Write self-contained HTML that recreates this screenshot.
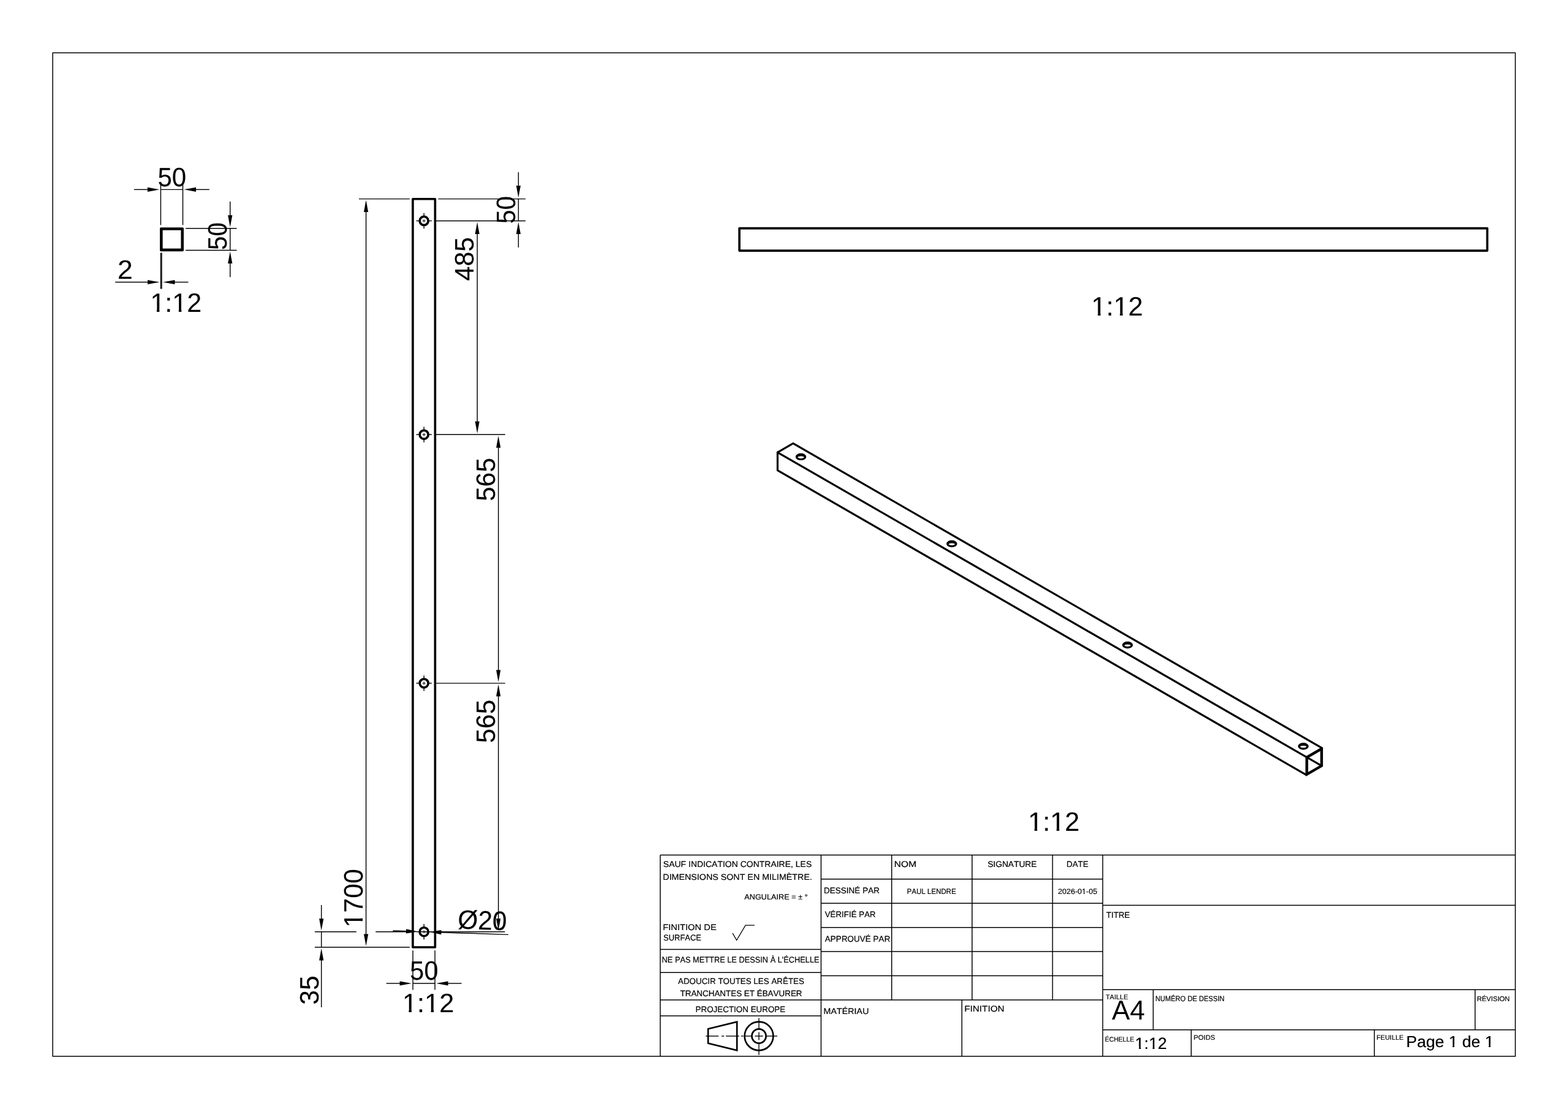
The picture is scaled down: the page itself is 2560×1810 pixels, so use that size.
<!DOCTYPE html>
<html lang="fr">
<head>
<meta charset="utf-8">
<title>Mise en plan - tube carré 50 x 50 x 1700</title>
<style>
html,body{margin:0;padding:0;background:#fff;}
body{width:2560px;height:1810px;overflow:hidden;}
svg{display:block;will-change:transform;filter:grayscale(1);}
svg *{vector-effect:none;}
svg line,svg rect,svg circle,svg ellipse,svg path{fill:none;stroke:#000;}
svg text{font-family:"Liberation Sans",sans-serif;font-kerning:none;fill:#000;stroke:none;stroke-linejoin:round;text-rendering:geometricPrecision;white-space:pre;}
svg text.big{stroke:#fff;}
svg text.small{stroke:#000;}
svg rect.m{fill:#fff;stroke:none;}
</style>
</head>
<body>
<svg width="2560" height="1810" viewBox="0 0 2560 1810">
<rect x="0" y="0" width="2560" height="1810" style="fill:#fff;stroke:none"/>
<g id="labels">
<text transform="translate(257.38,303.74) scale(0.9667,1)" font-size="43.43" class="small" stroke-width="0.120">50</text>
<text transform="translate(369.74,407.96) rotate(-90) scale(0.9333,1)" font-size="43.43" class="small" stroke-width="0.120">50</text>
<text transform="translate(191.70,455.14) scale(1.0351,1)" font-size="43.43" class="small" stroke-width="0.120">2</text>
<g transform="translate(245.42,508.64) scale(0.9912,1)"><text font-size="43.43" class="small" stroke-width="0.120">1:12</text><rect class="m" x="2.15" y="-4.40" width="8.46" height="5.56"/><rect class="m" x="15.07" y="-4.40" width="8.12" height="5.56"/><rect class="m" x="38.37" y="-4.40" width="8.46" height="5.56"/><rect class="m" x="51.29" y="-4.40" width="8.12" height="5.56"/></g>
<g transform="translate(591.74,1513.78) rotate(-90) scale(0.9916,1)"><text font-size="43.43" class="small" stroke-width="0.120">1700</text><rect class="m" x="2.15" y="-4.40" width="8.46" height="5.56"/><rect class="m" x="15.07" y="-4.40" width="8.12" height="5.56"/></g>
<text transform="translate(519.54,1639.76) rotate(-90) scale(0.9810,1)" font-size="43.43" class="small" stroke-width="0.120">35</text>
<text transform="translate(840.64,364.96) rotate(-90) scale(0.9333,1)" font-size="43.43" class="small" stroke-width="0.120">50</text>
<text transform="translate(773.14,458.42) rotate(-90) scale(0.9876,1)" font-size="43.43" class="small" stroke-width="0.120">485</text>
<text transform="translate(807.64,818.04) rotate(-90) scale(0.9794,1)" font-size="43.43" class="small" stroke-width="0.120">565</text>
<text transform="translate(807.64,1212.84) rotate(-90) scale(0.9794,1)" font-size="43.43" class="small" stroke-width="0.120">565</text>
<text transform="translate(746.99,1515.54) rotate(1.9) scale(0.9745,1)" font-size="43.43" class="small" stroke-width="0.120">Ø20</text>
<text transform="translate(669.30,1598.84) scale(0.9556,1)" font-size="43.43" class="small" stroke-width="0.120">50</text>
<g transform="translate(656.89,1652.14) scale(0.9989,1)"><text font-size="43.43" class="small" stroke-width="0.120">1:12</text><rect class="m" x="2.15" y="-4.40" width="8.46" height="5.56"/><rect class="m" x="15.07" y="-4.40" width="8.12" height="5.56"/><rect class="m" x="38.37" y="-4.40" width="8.46" height="5.56"/><rect class="m" x="51.29" y="-4.40" width="8.12" height="5.56"/></g>
<g transform="translate(1781.79,514.84) scale(0.9976,1)"><text font-size="43.43" class="small" stroke-width="0.120">1:12</text><rect class="m" x="2.15" y="-4.40" width="8.46" height="5.56"/><rect class="m" x="15.07" y="-4.40" width="8.12" height="5.56"/><rect class="m" x="38.37" y="-4.40" width="8.46" height="5.56"/><rect class="m" x="51.29" y="-4.40" width="8.12" height="5.56"/></g>
<g transform="translate(1678.40,1356.14) scale(0.9950,1)"><text font-size="43.43" class="small" stroke-width="0.120">1:12</text><rect class="m" x="2.15" y="-4.40" width="8.46" height="5.56"/><rect class="m" x="15.07" y="-4.40" width="8.12" height="5.56"/><rect class="m" x="38.37" y="-4.40" width="8.46" height="5.56"/><rect class="m" x="51.29" y="-4.40" width="8.12" height="5.56"/></g>
<text transform="translate(1082.86,1415.10) scale(1.0237,1)" font-size="13.66" class="small" stroke-width="0.200">SAUF INDICATION CONTRAIRE, LES</text>
<text transform="translate(1082.33,1436.00) scale(1.0456,1)" font-size="13.66" class="small" stroke-width="0.200">DIMENSIONS SONT EN MILIMÈTRE.</text>
<text transform="translate(1215.28,1468.30) scale(1.0406,1)" font-size="12.21" class="small" stroke-width="0.200">ANGULAIRE = ± °</text>
<text transform="translate(1082.29,1517.60) scale(1.0766,1)" font-size="13.66" class="small" stroke-width="0.200">FINITION DE</text>
<text transform="translate(1083.11,1535.20) scale(0.9457,1)" font-size="13.66" class="small" stroke-width="0.200">SURFACE</text>
<text transform="translate(1080.55,1571.10) scale(0.9372,1)" font-size="13.66" class="small" stroke-width="0.200">NE PAS METTRE LE DESSIN À L'ÉCHELLE</text>
<text transform="translate(1106.97,1606.30) scale(0.9798,1)" font-size="13.66" class="small" stroke-width="0.200">ADOUCIR TOUTES LES ARÊTES</text>
<text transform="translate(1110.50,1626.40) scale(0.9824,1)" font-size="13.66" class="small" stroke-width="0.200">TRANCHANTES ET ÉBAVURER</text>
<text transform="translate(1135.60,1651.60) scale(0.9808,1)" font-size="13.66" class="small" stroke-width="0.200">PROJECTION EUROPE</text>
<text transform="translate(1344.89,1457.90) scale(0.9920,1)" font-size="13.66" class="small" stroke-width="0.200">DESSINÉ PAR</text>
<text transform="translate(1346.64,1497.30) scale(0.9770,1)" font-size="13.66" class="small" stroke-width="0.200">VÉRIFIÉ PAR</text>
<text transform="translate(1346.87,1536.80) scale(0.9883,1)" font-size="13.66" class="small" stroke-width="0.200">APPROUVÉ PAR</text>
<text transform="translate(1459.71,1415.10) scale(1.1473,1)" font-size="13.66" class="small" stroke-width="0.200">NOM</text>
<text transform="translate(1612.42,1415.10) scale(1.0083,1)" font-size="13.66" class="small" stroke-width="0.200">SIGNATURE</text>
<text transform="translate(1741.20,1415.10) scale(0.9818,1)" font-size="13.66" class="small" stroke-width="0.200">DATE</text>
<text transform="translate(1480.86,1458.70) scale(0.9431,1)" font-size="12.21" class="small" stroke-width="0.200">PAUL LENDRE</text>
<g transform="translate(1727.27,1458.70) scale(1.0273,1)"><text font-size="12.21" class="small" stroke-width="0.200">2026-01-05</text><rect class="m" x="37.75" y="-2.11" width="2.99" height="3.31"/><rect class="m" x="42.52" y="-2.11" width="2.89" height="3.31"/></g>
<text transform="translate(1344.53,1654.90) scale(1.0479,1)" font-size="13.66" class="small" stroke-width="0.200">MATÉRIAU</text>
<text transform="translate(1574.45,1651.40) scale(1.1191,1)" font-size="13.66" class="small" stroke-width="0.200">FINITION</text>
<text transform="translate(1806.35,1497.50) scale(0.9709,1)" font-size="13.66" class="small" stroke-width="0.200">TITRE</text>
<text transform="translate(1805.15,1630.90) scale(0.9954,1)" font-size="11.05" class="small" stroke-width="0.200">TAILLE</text>
<text transform="translate(1815.21,1663.85) scale(0.9877,1)" font-size="44.77">A4</text>
<text transform="translate(1886.13,1633.80) scale(0.9159,1)" font-size="12.21" class="small" stroke-width="0.200">NUMÉRO DE DESSIN</text>
<text transform="translate(2411.15,1633.70) scale(0.9944,1)" font-size="11.34" class="small" stroke-width="0.200">RÉVISION</text>
<text transform="translate(1804.09,1699.55) scale(0.9445,1)" font-size="11.05" class="small" stroke-width="0.200">ÉCHELLE</text>
<g transform="translate(1853.12,1711.50) scale(1.0068,1)"><text font-size="26.60" class="small" stroke-width="0.200">1:12</text><rect class="m" x="0.83" y="-3.19" width="5.51" height="4.39"/><rect class="m" x="9.39" y="-3.19" width="5.30" height="4.39"/><rect class="m" x="23.01" y="-3.19" width="5.51" height="4.39"/><rect class="m" x="31.57" y="-3.19" width="5.30" height="4.39"/></g>
<text transform="translate(1948.72,1696.70) scale(1.0209,1)" font-size="11.05" class="small" stroke-width="0.200">POIDS</text>
<text transform="translate(2247.31,1696.70) scale(0.9865,1)" font-size="11.05" class="small" stroke-width="0.200">FEUILLE</text>
<g transform="translate(2295.82,1708.60) scale(1.0142,1)"><text font-size="26.16" class="small" stroke-width="0.200">Page 1 de 1</text><rect class="m" x="69.16" y="-3.15" width="5.44" height="4.35"/><rect class="m" x="77.61" y="-3.15" width="5.23" height="4.35"/><rect class="m" x="127.36" y="-3.15" width="5.44" height="4.35"/><rect class="m" x="135.80" y="-3.15" width="5.23" height="4.35"/></g>
</g>
<g id="frame">
<rect x="86.05" y="86.3" width="2387.95" height="1637.60" stroke-width="1.5" stroke-linejoin="round"/>
</g>
<g id="view-section">
<rect x="262.6" y="372.7" width="35.80" height="35.90" stroke-width="3.1" stroke-linejoin="round"/>
<rect x="264.04" y="374.14" width="32.92" height="33.02" stroke-width="3.1"/>
<line x1="262.40" y1="300.00" x2="262.40" y2="367.30" stroke-width="1.45"/>
<line x1="298.50" y1="300.00" x2="298.50" y2="367.30" stroke-width="1.45"/>
<line x1="218.80" y1="309.35" x2="241.40" y2="309.35" stroke-width="1.45"/>
<line x1="319.50" y1="309.35" x2="341.90" y2="309.35" stroke-width="1.45"/>
<line x1="262.40" y1="309.35" x2="298.50" y2="309.35" stroke-width="1.45"/>
<polygon points="260.40,309.35 240.90,312.95 240.90,305.75" fill="#000" stroke="none"/>
<polygon points="300.50,309.35 320.00,305.75 320.00,312.95" fill="#000" stroke="none"/>
<line x1="303.10" y1="372.80" x2="386.50" y2="372.80" stroke-width="1.45"/>
<line x1="303.10" y1="408.55" x2="386.50" y2="408.55" stroke-width="1.45"/>
<line x1="375.70" y1="329.00" x2="375.70" y2="351.80" stroke-width="1.45"/>
<line x1="375.70" y1="429.55" x2="375.70" y2="452.30" stroke-width="1.45"/>
<line x1="375.70" y1="372.80" x2="375.70" y2="408.55" stroke-width="1.45"/>
<polygon points="375.70,370.80 372.10,351.30 379.30,351.30" fill="#000" stroke="none"/>
<polygon points="375.70,410.55 379.30,430.05 372.10,430.05" fill="#000" stroke="none"/>
<line x1="262.50" y1="412.60" x2="262.50" y2="471.50" stroke-width="1.45"/>
<line x1="263.94" y1="412.60" x2="263.94" y2="471.50" stroke-width="1.45"/>
<line x1="188.10" y1="460.50" x2="241.50" y2="460.50" stroke-width="1.45"/>
<line x1="284.94" y1="460.50" x2="307.44" y2="460.50" stroke-width="1.45"/>
<line x1="262.50" y1="460.50" x2="263.94" y2="460.50" stroke-width="1.45"/>
<polygon points="260.50,460.50 241.00,464.10 241.00,456.90" fill="#000" stroke="none"/>
<polygon points="265.94,460.50 285.44,456.90 285.44,464.10" fill="#000" stroke="none"/>
</g>
<g id="view-front">
<rect x="673.95" y="324.7" width="36.45" height="1221.30" stroke-width="3.65" stroke-linejoin="round"/>
<circle cx="692.2" cy="360.45" r="7.0" stroke-width="3.7"/>
<line x1="679.50" y1="360.45" x2="686.20" y2="360.45" stroke-width="1.4"/>
<line x1="698.20" y1="360.45" x2="704.90" y2="360.45" stroke-width="1.4"/>
<line x1="692.20" y1="347.75" x2="692.20" y2="354.45" stroke-width="1.4"/>
<line x1="692.20" y1="366.45" x2="692.20" y2="373.15" stroke-width="1.4"/>
<line x1="689.50" y1="360.45" x2="694.90" y2="360.45" stroke-width="1.0"/>
<line x1="692.20" y1="357.75" x2="692.20" y2="363.15" stroke-width="1.0"/>
<circle cx="692.2" cy="709.3" r="7.0" stroke-width="3.7"/>
<line x1="679.50" y1="709.30" x2="686.20" y2="709.30" stroke-width="1.4"/>
<line x1="698.20" y1="709.30" x2="704.90" y2="709.30" stroke-width="1.4"/>
<line x1="692.20" y1="696.60" x2="692.20" y2="703.30" stroke-width="1.4"/>
<line x1="692.20" y1="715.30" x2="692.20" y2="722.00" stroke-width="1.4"/>
<line x1="689.50" y1="709.30" x2="694.90" y2="709.30" stroke-width="1.0"/>
<line x1="692.20" y1="706.60" x2="692.20" y2="712.00" stroke-width="1.0"/>
<circle cx="692.2" cy="1115.1" r="7.0" stroke-width="3.7"/>
<line x1="679.50" y1="1115.10" x2="686.20" y2="1115.10" stroke-width="1.4"/>
<line x1="698.20" y1="1115.10" x2="704.90" y2="1115.10" stroke-width="1.4"/>
<line x1="692.20" y1="1102.40" x2="692.20" y2="1109.10" stroke-width="1.4"/>
<line x1="692.20" y1="1121.10" x2="692.20" y2="1127.80" stroke-width="1.4"/>
<line x1="689.50" y1="1115.10" x2="694.90" y2="1115.10" stroke-width="1.0"/>
<line x1="692.20" y1="1112.40" x2="692.20" y2="1117.80" stroke-width="1.0"/>
<circle cx="692.2" cy="1520.75" r="7.0" stroke-width="3.7"/>
<line x1="679.50" y1="1520.75" x2="686.20" y2="1520.75" stroke-width="1.4"/>
<line x1="698.20" y1="1520.75" x2="704.90" y2="1520.75" stroke-width="1.4"/>
<line x1="692.20" y1="1508.05" x2="692.20" y2="1514.75" stroke-width="1.4"/>
<line x1="692.20" y1="1526.75" x2="692.20" y2="1533.45" stroke-width="1.4"/>
<line x1="689.50" y1="1520.75" x2="694.90" y2="1520.75" stroke-width="1.0"/>
<line x1="692.20" y1="1518.05" x2="692.20" y2="1523.45" stroke-width="1.0"/>
<line x1="586.00" y1="324.60" x2="668.90" y2="324.60" stroke-width="1.45"/>
<line x1="513.90" y1="1545.90" x2="668.80" y2="1545.90" stroke-width="1.45"/>
<line x1="597.60" y1="345.60" x2="597.60" y2="1524.90" stroke-width="1.45"/>
<polygon points="597.60,326.60 601.20,346.10 594.00,346.10" fill="#000" stroke="none"/>
<polygon points="597.60,1543.90 594.00,1524.40 601.20,1524.40" fill="#000" stroke="none"/>
<line x1="513.90" y1="1520.80" x2="581.90" y2="1520.80" stroke-width="1.45"/>
<line x1="613.30" y1="1520.80" x2="672.50" y2="1520.80" stroke-width="1.45"/>
<line x1="524.70" y1="1477.10" x2="524.70" y2="1499.80" stroke-width="1.45"/>
<line x1="524.70" y1="1566.90" x2="524.70" y2="1644.00" stroke-width="1.45"/>
<line x1="524.70" y1="1520.80" x2="524.70" y2="1545.90" stroke-width="1.45"/>
<polygon points="524.70,1518.80 521.10,1499.30 528.30,1499.30" fill="#000" stroke="none"/>
<polygon points="524.70,1547.90 528.30,1567.40 521.10,1567.40" fill="#000" stroke="none"/>
<line x1="715.40" y1="324.60" x2="858.10" y2="324.60" stroke-width="1.45"/>
<line x1="712.00" y1="360.40" x2="858.10" y2="360.40" stroke-width="1.45"/>
<line x1="712.00" y1="709.20" x2="824.80" y2="709.20" stroke-width="1.45"/>
<line x1="712.00" y1="1115.10" x2="824.80" y2="1115.10" stroke-width="1.45"/>
<line x1="712.00" y1="1520.80" x2="824.40" y2="1520.80" stroke-width="1.45"/>
<line x1="846.40" y1="281.10" x2="846.40" y2="303.60" stroke-width="1.45"/>
<line x1="846.40" y1="381.40" x2="846.40" y2="403.90" stroke-width="1.45"/>
<line x1="846.40" y1="324.60" x2="846.40" y2="360.40" stroke-width="1.45"/>
<polygon points="846.40,322.60 842.80,303.10 850.00,303.10" fill="#000" stroke="none"/>
<polygon points="846.40,362.40 850.00,381.90 842.80,381.90" fill="#000" stroke="none"/>
<line x1="779.20" y1="381.40" x2="779.20" y2="688.20" stroke-width="1.45"/>
<polygon points="779.20,362.40 782.80,381.90 775.60,381.90" fill="#000" stroke="none"/>
<polygon points="779.20,707.20 775.60,687.70 782.80,687.70" fill="#000" stroke="none"/>
<line x1="813.70" y1="730.20" x2="813.70" y2="1094.10" stroke-width="1.45"/>
<polygon points="813.70,711.20 817.30,730.70 810.10,730.70" fill="#000" stroke="none"/>
<polygon points="813.70,1113.10 810.10,1093.60 817.30,1093.60" fill="#000" stroke="none"/>
<line x1="813.70" y1="1136.10" x2="813.70" y2="1499.80" stroke-width="1.45"/>
<polygon points="813.70,1117.10 817.30,1136.60 810.10,1136.60" fill="#000" stroke="none"/>
<polygon points="813.70,1518.80 810.10,1499.30 817.30,1499.30" fill="#000" stroke="none"/>
<line x1="641.32" y1="1519.07" x2="663.61" y2="1519.81" stroke-width="1.45"/>
<line x1="719.99" y1="1521.69" x2="829.93" y2="1525.35" stroke-width="1.45"/>
<line x1="684.60" y1="1520.51" x2="699.00" y2="1520.99" stroke-width="1.45"/>
<polygon points="682.60,1520.44 662.99,1523.39 663.23,1516.20" fill="#000" stroke="none"/>
<polygon points="701.00,1521.06 720.61,1518.11 720.37,1525.30" fill="#000" stroke="none"/>
<line x1="674.10" y1="1551.30" x2="674.10" y2="1615.50" stroke-width="1.45"/>
<line x1="710.10" y1="1551.30" x2="710.10" y2="1615.50" stroke-width="1.45"/>
<line x1="630.70" y1="1605.00" x2="653.10" y2="1605.00" stroke-width="1.45"/>
<line x1="731.10" y1="1605.00" x2="753.60" y2="1605.00" stroke-width="1.45"/>
<line x1="674.10" y1="1605.00" x2="710.10" y2="1605.00" stroke-width="1.45"/>
<polygon points="672.10,1605.00 652.60,1608.60 652.60,1601.40" fill="#000" stroke="none"/>
<polygon points="712.10,1605.00 731.60,1601.40 731.60,1608.60" fill="#000" stroke="none"/>
</g>
<g id="view-side">
<rect x="1207.15" y="372.6" width="1221.05" height="36.50" stroke-width="3.65" stroke-linejoin="round"/>
</g>
<g id="view-iso">
<path d="M1294.90,723.64 L2158.34,1220.90 L2158.34,1250.23 L2132.95,1264.89 L1269.50,767.62 L1269.50,738.30 Z" stroke-width="3.2" stroke-linejoin="round" stroke-linecap="round"/>
<path d="M1269.50,738.30 L2132.95,1235.56" stroke-width="3.2" stroke-linejoin="round" stroke-linecap="round"/>
<path d="M2158.34,1220.90 L2132.95,1235.56 L2132.95,1264.89" stroke-width="3.2" stroke-linejoin="round" stroke-linecap="round"/>
<path d="M2134.16,1236.27 L2157.12,1223.01 L2157.12,1249.52 L2134.16,1262.78 Z" stroke-width="3.2" stroke-linejoin="round" stroke-linecap="round"/>
<path d="M2133.96,1236.15 L2157.32,1249.64" stroke-width="3.1" stroke-linejoin="round" stroke-linecap="round"/>
<ellipse cx="1307.59" cy="745.59" rx="7.18" ry="4.15" stroke-width="3.2"/>
<path d="M1300.69,746.09 A7.18,4.15 0 0 1 1314.49,746.09" stroke-width="3.0"/>
<ellipse cx="1553.93" cy="887.46" rx="7.18" ry="4.15" stroke-width="3.2"/>
<path d="M1547.03,887.96 A7.18,4.15 0 0 1 1560.83,887.96" stroke-width="3.0"/>
<ellipse cx="1840.90" cy="1052.73" rx="7.18" ry="4.15" stroke-width="3.2"/>
<path d="M1834.00,1053.23 A7.18,4.15 0 0 1 1847.80,1053.23" stroke-width="3.0"/>
<ellipse cx="2127.87" cy="1218.00" rx="7.18" ry="4.15" stroke-width="3.2"/>
<path d="M2120.97,1218.50 A7.18,4.15 0 0 1 2134.77,1218.50" stroke-width="3.0"/>
</g>
<g id="title-block">
<line x1="1077.95" y1="1395.55" x2="2474.00" y2="1395.55" stroke-width="1.5"/>
<line x1="1077.95" y1="1395.55" x2="1077.95" y2="1723.90" stroke-width="1.5"/>
<line x1="1340.50" y1="1395.55" x2="1340.50" y2="1723.90" stroke-width="1.5"/>
<line x1="1800.40" y1="1395.55" x2="1800.40" y2="1723.90" stroke-width="1.5"/>
<line x1="1077.95" y1="1549.60" x2="1340.50" y2="1549.60" stroke-width="1.5"/>
<line x1="1077.95" y1="1587.30" x2="1340.50" y2="1587.30" stroke-width="1.5"/>
<line x1="1077.95" y1="1632.00" x2="1340.50" y2="1632.00" stroke-width="1.5"/>
<line x1="1077.95" y1="1658.10" x2="1340.50" y2="1658.10" stroke-width="1.5"/>
<line x1="1340.50" y1="1434.85" x2="1800.40" y2="1434.85" stroke-width="1.5"/>
<line x1="1340.50" y1="1474.30" x2="1800.40" y2="1474.30" stroke-width="1.5"/>
<line x1="1340.50" y1="1513.65" x2="1800.40" y2="1513.65" stroke-width="1.5"/>
<line x1="1340.50" y1="1553.05" x2="1800.40" y2="1553.05" stroke-width="1.5"/>
<line x1="1340.50" y1="1592.50" x2="1800.40" y2="1592.50" stroke-width="1.5"/>
<line x1="1340.50" y1="1632.00" x2="1800.40" y2="1632.00" stroke-width="1.5"/>
<line x1="1455.80" y1="1395.55" x2="1455.80" y2="1632.00" stroke-width="1.5"/>
<line x1="1587.10" y1="1395.55" x2="1587.10" y2="1632.00" stroke-width="1.5"/>
<line x1="1718.45" y1="1395.55" x2="1718.45" y2="1632.00" stroke-width="1.5"/>
<line x1="1570.40" y1="1632.00" x2="1570.40" y2="1723.90" stroke-width="1.5"/>
<line x1="1800.40" y1="1477.40" x2="2474.00" y2="1477.40" stroke-width="1.5"/>
<line x1="1800.40" y1="1615.30" x2="2474.00" y2="1615.30" stroke-width="1.5"/>
<line x1="1800.40" y1="1680.80" x2="2474.00" y2="1680.80" stroke-width="1.5"/>
<line x1="1882.70" y1="1615.30" x2="1882.70" y2="1680.80" stroke-width="1.5"/>
<line x1="2408.35" y1="1615.30" x2="2408.35" y2="1680.80" stroke-width="1.5"/>
<line x1="1944.75" y1="1680.80" x2="1944.75" y2="1723.90" stroke-width="1.5"/>
<line x1="2243.80" y1="1680.80" x2="2243.80" y2="1723.90" stroke-width="1.5"/>
<path d="M1196.0,1523.0 L1202.7,1534.5 L1217.1,1510.05 L1231.9,1510.05" stroke-width="1.3"/>
<path d="M1156.1,1679.3 L1203.2,1667.6 L1203.2,1714.4 L1156.1,1702.7 Z" stroke-width="2.65" stroke-linejoin="miter"/>
<circle cx="1239.06" cy="1691.0" r="23.4" stroke-width="2.65"/>
<circle cx="1239.06" cy="1691.0" r="11.6" stroke-width="2.65"/>
<line x1="1152.30" y1="1691.00" x2="1173.20" y2="1691.00" stroke-width="1.4"/>
<line x1="1178.10" y1="1691.00" x2="1182.30" y2="1691.00" stroke-width="1.4"/>
<line x1="1185.10" y1="1691.00" x2="1206.70" y2="1691.00" stroke-width="1.4"/>
<line x1="1210.10" y1="1691.00" x2="1213.60" y2="1691.00" stroke-width="1.4"/>
<line x1="1216.50" y1="1691.00" x2="1226.50" y2="1691.00" stroke-width="1.4"/>
<line x1="1232.40" y1="1691.00" x2="1245.70" y2="1691.00" stroke-width="1.4"/>
<line x1="1252.00" y1="1691.00" x2="1269.00" y2="1691.00" stroke-width="1.4"/>
<line x1="1239.06" y1="1661.40" x2="1239.06" y2="1678.40" stroke-width="1.4"/>
<line x1="1239.06" y1="1684.40" x2="1239.06" y2="1697.60" stroke-width="1.4"/>
<line x1="1239.06" y1="1704.00" x2="1239.06" y2="1721.70" stroke-width="1.4"/>
</g>
</svg>
</body>
</html>
